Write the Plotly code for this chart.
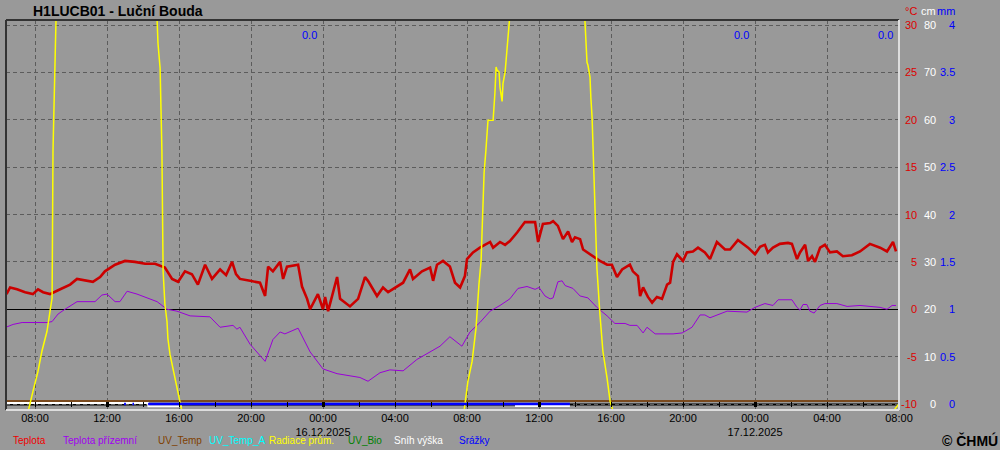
import plotly.graph_objects as go

# ---------------- data ----------------
def d(lst):
    return ["2025-12-" + s for s in lst]

teplota_time = d([
    "15 06:25", "15 06:37", "15 07:00", "15 07:27", "15 07:53", "15 08:10", "15 08:27", "15 08:50",
    "15 09:17", "15 09:57", "15 10:20", "15 10:53", "15 11:13", "15 11:37", "15 11:53", "15 12:27",
    "15 13:00", "15 13:33", "15 14:07", "15 14:40", "15 15:13", "15 15:37", "15 15:57", "15 16:20",
    "15 16:43", "15 17:03", "15 17:27", "15 17:50", "15 18:17", "15 18:37", "15 18:57", "15 19:10",
    "15 19:23", "15 19:57", "15 20:30", "15 20:47", "15 20:57", "15 21:13", "15 21:37", "15 21:47",
    "15 22:00", "15 22:37", "15 22:50", "15 23:07", "15 23:17", "15 23:43",
    "16 00:00", "16 00:07", "16 00:17", "16 00:47", "16 00:57", "16 01:30", "16 01:57", "16 02:20",
    "16 02:30", "16 03:00", "16 03:20", "16 03:37", "16 03:53", "16 04:27", "16 04:50", "16 05:00",
    "16 05:30", "16 05:57", "16 06:07", "16 06:20", "16 06:40", "16 07:03", "16 07:20", "16 07:37",
    "16 07:53", "16 08:00", "16 08:20", "16 08:43", "16 09:17", "16 09:27", "16 09:50", "16 10:07",
    "16 10:23", "16 10:47", "16 11:13", "16 11:47", "16 11:57", "16 12:13", "16 12:37", "16 12:47",
    "16 13:03", "16 13:20", "16 13:37", "16 13:50", "16 14:00", "16 14:17", "16 14:27", "16 15:00",
    "16 15:23", "16 15:47", "16 16:03", "16 16:20", "16 16:37", "16 17:03", "16 17:13", "16 17:30",
    "16 17:37", "16 17:47", "16 18:03", "16 18:17", "16 18:33", "16 18:50", "16 19:07", "16 19:17",
    "16 19:27", "16 19:40", "16 20:00", "16 20:13", "16 20:33", "16 20:50", "16 21:13", "16 21:30",
    "16 21:53", "16 22:20", "16 22:37", "16 23:03", "16 23:20", "16 23:37",
    "17 00:00", "17 00:17", "17 00:33", "17 00:43", "17 01:00", "17 01:23", "17 01:50", "17 02:03",
    "17 02:20", "17 02:30", "17 02:47", "17 02:57", "17 03:10", "17 03:20", "17 03:37", "17 03:53",
    "17 04:10", "17 04:33", "17 04:53", "17 05:23", "17 05:50", "17 06:23", "17 06:57", "17 07:20",
    "17 07:40", "17 07:50",
])
teplota = [
    1.6, 2.3, 2.1, 1.8, 1.6, 2.1, 1.8, 1.6,
    2.0, 2.6, 3.2, 3.0, 2.9, 3.4, 4.0, 4.7,
    5.1, 5.0, 4.8, 4.8, 4.4, 3.2, 2.9, 4.0,
    3.7, 2.6, 4.7, 3.2, 4.2, 3.6, 5.0, 3.7,
    3.2, 3.0, 2.8, 1.4, 4.5, 4.0, 5.0, 3.2,
    4.5, 4.7, 2.4, 1.1, 0.0, 1.6,
    0.0, 1.3, -0.2, 3.4, 1.1, 0.3, 1.1, 3.4,
    3.0, 1.4, 2.3, 1.8, 2.1, 2.8, 4.2, 3.2,
    4.0, 4.4, 3.0, 4.7, 5.1, 4.5, 2.8, 2.3,
    3.5, 5.3, 6.0, 6.5, 7.1, 6.5, 7.1, 6.8,
    7.2, 8.1, 9.2, 9.2, 7.1, 9.0, 9.1, 9.3,
    8.8, 7.4, 8.2, 7.1, 7.6, 7.4, 6.3, 5.6,
    5.1, 4.7, 4.7, 3.4, 4.2, 4.7, 4.0, 3.5,
    1.4, 2.3, 1.3, 0.7, 1.3, 1.1, 2.6, 2.8,
    5.0, 5.8, 5.1, 6.0, 6.1, 6.5, 6.0, 5.3,
    7.1, 6.3, 6.3, 7.3, 6.9, 6.5,
    5.8, 6.6, 6.8, 6.0, 6.5, 6.9, 7.0, 6.9,
    5.3, 6.0, 6.8, 5.1, 5.6, 5.0, 6.5, 6.8,
    6.0, 6.1, 5.6, 5.7, 6.1, 6.9, 6.5, 6.1,
    7.1, 6.1,
]

prizemni_time = d([
    "15 06:23", "15 06:47", "15 07:17", "15 07:53", "15 08:40", "15 08:57", "15 09:17", "15 09:40",
    "15 10:20", "15 11:20", "15 11:43", "15 12:00", "15 12:27", "15 12:43", "15 13:07", "15 13:40",
    "15 14:13", "15 14:47", "15 15:20", "15 15:53", "15 16:37", "15 17:43", "15 18:17", "15 19:00",
    "15 19:13", "15 19:23", "15 19:57", "15 20:47", "15 21:13", "15 21:37", "15 21:53", "15 22:10",
    "15 22:37", "15 23:17",
    "16 00:00", "16 00:47", "16 01:20", "16 02:03", "16 02:30", "16 03:10", "16 03:43", "16 04:27",
    "16 05:13", "16 05:57", "16 06:30", "16 07:03", "16 07:43", "16 08:10", "16 08:43", "16 09:17",
    "16 09:50", "16 10:23", "16 10:50", "16 11:20", "16 11:47", "16 12:00", "16 12:20", "16 12:37",
    "16 12:47", "16 13:03", "16 13:17", "16 13:27", "16 13:53", "16 14:17", "16 14:43", "16 15:13",
    "16 15:47", "16 16:13", "16 16:47", "16 17:03", "16 17:27", "16 17:47", "16 18:00", "16 18:27",
    "16 19:27", "16 19:57", "16 20:30", "16 20:57", "16 21:13", "16 21:30", "16 21:53", "16 22:27",
    "16 23:33",
    "17 00:00", "17 00:33", "17 01:00", "17 01:17", "17 02:03", "17 02:20", "17 02:30", "17 02:40",
    "17 02:53", "17 03:03", "17 03:17", "17 03:37", "17 03:53", "17 04:33", "17 05:07", "17 05:50",
    "17 06:23", "17 06:57", "17 07:20", "17 07:37", "17 07:50",
])
prizemni = [
    -1.9, -1.6, -1.4, -1.4, -1.4, -1.3, -0.5, 0.0,
    0.8, 0.8, 1.5, 1.6, 0.8, 0.8, 1.9, 1.6,
    1.2, 0.8, 0.0, -0.2, -0.7, -0.8, -1.9, -1.7,
    -2.1, -1.9, -3.7, -5.5, -3.2, -2.4, -2.6, -2.4,
    -2.0, -4.5,
    -6.3, -6.8, -7.0, -7.2, -7.6, -6.7, -6.4, -6.5,
    -5.3, -4.5, -3.9, -2.9, -3.9, -2.4, -1.4, -0.2,
    0.4, 1.1, 2.2, 2.4, 2.1, 2.3, 1.4, 1.1,
    1.2, 2.9, 3.0, 2.5, 2.2, 1.4, 1.2, 0.2,
    -0.7, -1.5, -1.5, -1.7, -1.7, -2.5, -1.9, -2.6,
    -2.6, -2.5, -1.9, -0.6, -0.6, -0.9, -0.6, -0.2,
    -0.3,
    0.2, 0.6, 0.4, 1.0, 1.0, 0.2, -0.1, 0.5,
    0.5, -0.2, -0.4, 0.4, 0.6, 0.6, 0.3, 0.4,
    0.3, 0.2, 0.0, 0.4, 0.4,
]

radiace_time = d([
    "15 06:23", "15 07:37", "15 07:53", "15 08:10", "15 08:23", "15 08:40", "15 08:50", "15 08:57",
    "15 09:00", "15 09:03", "15 09:07", "15 09:10", "15 10:00", "15 11:30", "15 13:00", "15 14:00",
    "15 14:47", "15 14:50", "15 14:57", "15 15:00", "15 15:03", "15 15:07", "15 15:13", "15 15:20",
    "15 15:23", "15 15:30", "15 15:40", "15 15:53", "15 16:03", "15 16:10",
    "16 07:50", "16 08:03", "16 08:17", "16 08:30", "16 08:40", "16 08:47", "16 08:50", "16 08:53",
    "16 08:57", "16 09:03", "16 09:07", "16 09:10", "16 09:27", "16 09:30", "16 09:33", "16 09:37",
    "16 09:40", "16 09:47", "16 09:50", "16 09:57", "16 10:00", "16 10:07", "16 10:10", "16 10:13",
    "16 10:17", "16 10:20", "16 11:00", "16 12:00", "16 13:00", "16 14:00", "16 14:33", "16 14:37",
    "16 14:40", "16 14:43", "16 14:50", "16 14:53", "16 14:57", "16 15:00", "16 15:03", "16 15:07",
    "16 15:13", "16 15:23", "16 15:33", "16 15:47", "16 15:57", "16 16:07",
    "17 07:40", "17 07:50", "17 08:00",
])
radiace = [
    0, 0, 5.1, 10.3, 15.4, 20.5, 25.6, 29,
    66.7, 78.7, 94.4, 100, 170, 230, 210, 160,
    100, 94, 87.7, 78.7, 66.7, 35.9, 27.4, 23,
    18.7, 14.6, 11, 6.9, 2.6, 0,
    0, 7.7, 12.8, 21.3, 32.6, 38.5, 45.4, 51.3,
    61, 66.7, 71.5, 74.4, 74.4, 76.9, 81.3, 88,
    87.2, 86.7, 82.8, 79.2, 83.8, 86.7, 89.7, 93,
    97, 100, 150, 190, 180, 130, 100, 93.6,
    89.2, 88.5, 85.4, 80, 75.1, 67.9, 59, 53.8,
    36.7, 24.9, 15.4, 8.5, 2.6, 0,
    0, 1.0, 2.0,
]

uv_temp_time = d(["15 06:23", "17 08:00"])
uv_temp = [-9.68, -9.68]

snih_time = d(["15 06:23", "15 14:17", "15 14:18", "15 16:10", "15 16:11", "16 10:40", "16 13:43"])
snih = [0.2, 0.2, -0.5, -0.5, None, -0.4, -0.4]

srazky_time = d(["15 12:57", "15 13:03", "15 13:10", "15 13:25", "15 13:30", "15 13:50", "15 14:17", "16 13:43"])
srazky = [0.0, 0.0, None, 0.0, 0.0, None, 0.0, 0.0]

denni_srazky_time = d(["16 00:00", "17 00:00", "17 08:00"])
denni_srazky = ["0.0", "0.0", "0.0"]

x_tickvals = d(["15 08:00", "15 12:00", "15 16:00", "15 20:00", "16 00:00", "16 04:00", "16 08:00",
                "16 12:00", "16 16:00", "16 20:00", "17 00:00", "17 04:00", "17 08:00"])
x_ticktext = ["08:00", "12:00", "16:00", "20:00", "00:00<br>16.12.2025", "04:00", "08:00",
              "12:00", "16:00", "20:00", "00:00<br>17.12.2025", "04:00", "08:00"]

temp_ticks = [30, 25, 20, 15, 10, 5, 0, -5, -10]
cm_ticks = [80, 70, 60, 50, 40, 30, 20, 10, 0]
mm_ticks = [4, 3.5, 3, 2.5, 2, 1.5, 1, 0.5, 0]

legend_names = ["Teplota", "Teplota přízemní", "UV_Temp", "UV_Temp_A", "Radiace prům.",
                "UV_Bio", "Sníh výška", "Srážky"]
legend_colors = ["#ee0000", "#a000f0", "#804000", "#00ffff", "#ffff00", "#008000", "#ffffff", "#0000ff"]

# ---------------- layout geometry ----------------
W, H = 1000, 450
PL, PR, PT, PB = 6, 899, 20, 410
X_RANGE = ["2025-12-15 06:23:20", "2025-12-17 08:00:00"]
PXU = 9.475
T_MIN = -10 - (PB - 404) / PXU
T_MAX = 30 + (25 - PT) / PXU
CM_RANGE = [(T_MIN + 10) * 2, (T_MAX + 10) * 2]
MM_RANGE = [(T_MIN + 10) / 10, (T_MAX + 10) / 10]


def px_x(px):
    return (px - PL) / (PR - PL)


def px_y(py):
    return (PB - py) / (PB - PT)


BG = "#999999"
GRID = "#5c5c5c"
FONT = "Liberation Sans"

fig = go.Figure()

fig.add_trace(go.Scatter(x=snih_time, y=snih, yaxis="y2", mode="lines",
                         line=dict(color="#ffffff", width=2), hoverinfo="skip", showlegend=False))
fig.add_trace(go.Scatter(x=uv_temp_time, y=uv_temp, mode="lines",
                         line=dict(color="#7a4a1e", width=2), hoverinfo="skip", showlegend=False))
fig.add_trace(go.Scatter(x=srazky_time, y=srazky, yaxis="y4", mode="lines",
                         line=dict(color="#0000ff", width=2.5), hoverinfo="skip", showlegend=False))
fig.add_trace(go.Scatter(x=prizemni_time, y=prizemni, mode="lines",
                         line=dict(color="#9a00d8", width=1), hoverinfo="skip", showlegend=False))
fig.add_trace(go.Scatter(x=teplota_time, y=teplota, mode="lines",
                         line=dict(color="#cc0000", width=2.6), hoverinfo="skip", showlegend=False))
fig.add_trace(go.Scatter(x=radiace_time, y=radiace, yaxis="y3", mode="lines",
                         line=dict(color="#ffff00", width=1.5), hoverinfo="skip", showlegend=False))
fig.add_trace(go.Scatter(x=X_RANGE, y=[None, None], xaxis="x2", mode="lines",
                         hoverinfo="skip", showlegend=False))
fig.add_trace(go.Scatter(x=X_RANGE, y=[None, None], xaxis="x3", mode="lines",
                         hoverinfo="skip", showlegend=False))

annotations = []
annotations.append(dict(text="<b>H1LUCB01 - Luční Bouda</b>", xref="paper", yref="paper",
                        x=px_x(32), y=px_y(11), xanchor="left", yanchor="middle", showarrow=False,
                        font=dict(family=FONT, size=14, color="#000000"), borderpad=0))
annotations.append(dict(text="<b>© ČHMÚ</b>", xref="paper", yref="paper",
                        x=px_x(999), y=px_y(440), xanchor="right", yanchor="middle", showarrow=False,
                        font=dict(family=FONT, size=14, color="#000000"), borderpad=0))
for txt, col, xr in [("°C", "#dd0000", 918), ("cm", "#ffffff", 937), ("mm", "#0000ff", 956)]:
    annotations.append(dict(text=txt, xref="paper", yref="paper", x=px_x(xr), y=px_y(11),
                            xanchor="right", yanchor="middle", showarrow=False,
                            font=dict(family=FONT, size=11, color=col), borderpad=0))
for v in temp_ticks:
    annotations.append(dict(text=str(v), xref="paper", yref="y", x=px_x(918), y=v,
                            xanchor="right", yanchor="middle", showarrow=False,
                            font=dict(family=FONT, size=11, color="#dd0000"), borderpad=0))
for v in cm_ticks:
    annotations.append(dict(text=str(v), xref="paper", yref="y2", x=px_x(937), y=v,
                            xanchor="right", yanchor="middle", showarrow=False,
                            font=dict(family=FONT, size=11, color="#ffffff"), borderpad=0))
for v in mm_ticks:
    annotations.append(dict(text=("%g" % v), xref="paper", yref="y4", x=px_x(956), y=v,
                            xanchor="right", yanchor="middle", showarrow=False,
                            font=dict(family=FONT, size=11, color="#0000ff"), borderpad=0))
for t, s in zip(denni_srazky_time, denni_srazky):
    annotations.append(dict(text=s, xref="x", yref="paper", x=t, y=px_y(35), xshift=-5,
                            xanchor="right", yanchor="middle", showarrow=False,
                            font=dict(family=FONT, size=11, color="#0000ff"), borderpad=0))
legend_x = [12, 62, 157, 208, 268, 347, 393, 458]
for name, col, lx in zip(legend_names, legend_colors, legend_x):
    annotations.append(dict(text=name, xref="paper", yref="paper", x=px_x(lx), y=px_y(440),
                            xanchor="left", yanchor="middle", showarrow=False,
                            font=dict(family=FONT, size=10, color=col), borderpad=0))

shapes = [
    dict(type="line", xref="paper", yref="y", x0=0, x1=1, y0=-10.05, y1=-10.05,
         line=dict(color="#000000", width=2), layer="between"),
    dict(type="line", xref="paper", yref="paper", x0=0, x1=1, y0=1, y1=1,
         line=dict(color="#333333", width=2), layer="above"),
    dict(type="line", xref="paper", yref="paper", x0=0, x1=0, y0=0, y1=1,
         line=dict(color="#333333", width=2), layer="above"),
    dict(type="line", xref="paper", yref="paper", x0=1, x1=1, y0=0, y1=1,
         line=dict(color="#dddddd", width=2), layer="above"),
    dict(type="line", xref="paper", yref="paper", x0=0, x1=1, y0=0, y1=0,
         line=dict(color="#dddddd", width=2), layer="above"),
]

tick_pos = px_y(407)

fig.update_layout(
    width=W, height=H,
    margin=dict(l=PL, r=W - PR, t=PT, b=H - PB, pad=0),
    paper_bgcolor=BG, plot_bgcolor=BG,
    showlegend=False,
    font=dict(family=FONT, size=11, color="#000000"),
    xaxis=dict(type="date", range=X_RANGE, tickmode="array", tickvals=x_tickvals, ticktext=x_ticktext,
               showgrid=True, gridcolor=GRID, griddash="4px,3px", gridwidth=1,
               ticks="", showline=False, zeroline=False, automargin=False,
               tickfont=dict(family=FONT, size=11, color="#000000"), ticklabelstandoff=0),
    xaxis2=dict(type="date", range=X_RANGE, overlaying="x", anchor="free", position=tick_pos,
                tick0="2025-12-15 00:00", dtick=7200000, ticks="inside", ticklen=5, tickwidth=1,
                tickcolor="#000000", showticklabels=False, showgrid=False, showline=False,
                zeroline=False),
    xaxis3=dict(type="date", range=X_RANGE, overlaying="x", anchor="free", position=tick_pos,
                tick0="2025-12-15 00:00", dtick=43200000, ticks="inside", ticklen=5, tickwidth=3,
                tickcolor="#000000", showticklabels=False, showgrid=False, showline=False,
                zeroline=False),
    yaxis=dict(range=[T_MIN, T_MAX], tickmode="array", tickvals=temp_ticks, showticklabels=False,
               showgrid=True, gridcolor=GRID, griddash="4px,3px", gridwidth=1, automargin=False,
               zeroline=True, zerolinecolor="#000000", zerolinewidth=1.3, ticks="", showline=False),
    yaxis2=dict(range=CM_RANGE, overlaying="y", side="right", showticklabels=False, showgrid=False,
                zeroline=False, ticks="", showline=False),
    yaxis3=dict(range=[0.4, 100], overlaying="y", side="right", showticklabels=False, showgrid=False,
                zeroline=False, ticks="", showline=False),
    yaxis4=dict(range=MM_RANGE, overlaying="y", side="right", showticklabels=False, showgrid=False,
                zeroline=False, ticks="", showline=False),
    annotations=annotations,
    shapes=shapes,
)

fig.write_html("out.html", config={"displayModeBar": False},
               post_script="document.body.style.margin='0px';document.body.style.overflow='hidden';")
